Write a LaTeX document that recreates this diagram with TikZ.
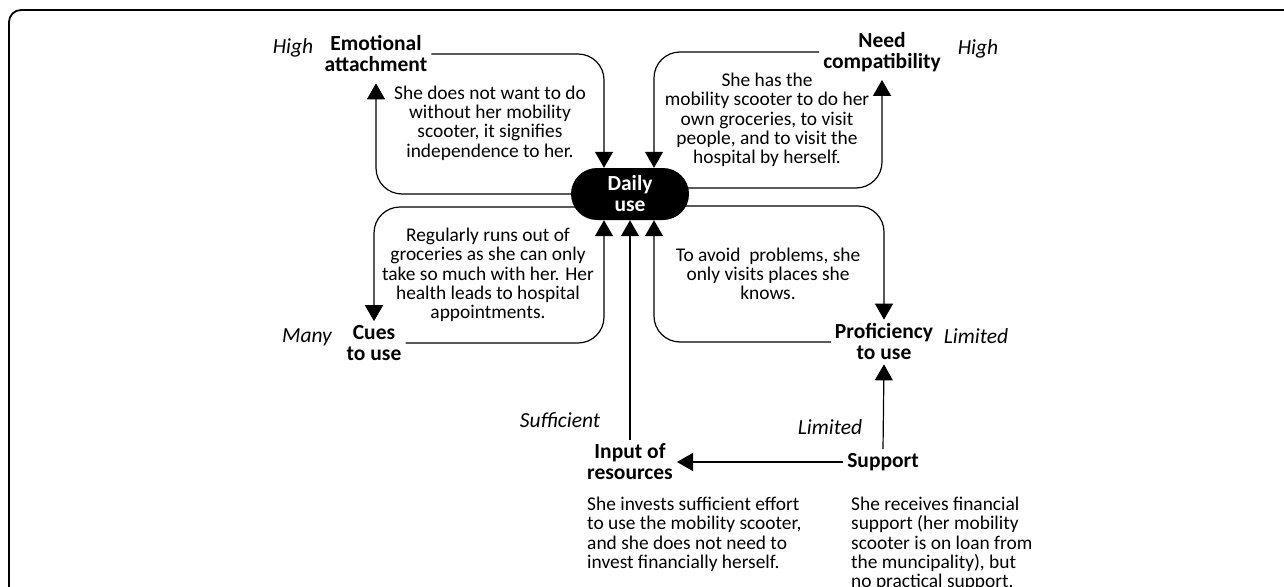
\documentclass[tikz,border=0pt]{standalone}
\usepackage{fontspec}
\setmainfont{Carlito}
\usetikzlibrary{arrows.meta,positioning,backgrounds}

\begin{document}
\begin{tikzpicture}[x=1pt,y=-1pt,
  factor/.style={font=\bfseries\fontsize{21.5}{21}\selectfont, align=center, inner sep=4pt},
  level/.style={font=\itshape\fontsize{21.5}{21}\selectfont},
  desc/.style={font=\fontsize{19.4}{19.3}\selectfont, align=center, inner sep=0pt},
  flow/.style={line width=1.2pt, rounded corners=26pt, -{Triangle[width=18pt,length=16pt]}}]
\useasboundingbox (0,0) rectangle (1284,586);
\clip (0,0) rectangle (1284,586);
\draw[line width=1.8pt, rounded corners=12pt] (9,620) -- (9,10) -- (1320,10);

% the centre
\node[factor, minimum width=118pt, minimum height=52pt, rounded corners=26pt,
  fill=black, text=white] (daily) at (630,194) {Daily\\use};

% factors and their levels
\node[factor] (emo) at (376,54) {Emotional\\attachment};
\node[factor] (need) at (882,52) {Need\\compatibility};
\node[factor] (cues) at (374,343) {Cues\\to use};
\node[factor] (prof) at (884,342) {Proficiency\\to use};
\node[factor] (input) at (630,462) {Input of\\resources};
\node[factor] (support) at (883,462) {Support};
\node[level] (emolvl) at (293,48) {High};
\node[level] (needlvl) at (978,49) {High};
\node[level] (cueslvl) at (307,337) {Many};
\node[level] (proflvl) at (976,336) {Limited};
\node[level] (inputlvl) at (560,420) {Sufficient};
\node[level] (supportlvl) at (830,427) {Limited};

% what she says
\node[desc] (emotxt) at (490,123) {She does not want to do\\without her mobility\\scooter, it signifies\\independence to her.};
\node[desc] (needtxt) at (767,120) {She has the\\mobility scooter to do her\\own groceries, to visit\\people, and to visit the\\hospital by herself.};
\node[desc] (cuestxt) at (488,275) {Regularly runs out of\\groceries as she can only\\take so much with her. Her\\health leads to hospital\\appointments.};
\node[desc] (proftxt) at (768,274) {To avoid\ \ problems, she\\only visits places she\\knows.};
\node[desc, align=left, anchor=north west] (inputtxt) at (587,497) {She invests sufficient effort\\to use the mobility scooter,\\and she does not need to\\invest financially herself.};
\node[desc, align=left, anchor=north west] (supporttxt) at (851,497) {She receives financial\\support (her mobility\\scooter is on loan from\\the muncipality), but\\no practical support.};

\begin{scope}[on background layer]
\draw[flow] (emo.east) -| ([xshift=-26pt]daily.north);
\draw[flow] (daily.center) -| ([yshift=-7pt]emo.south);
\draw[flow] (need.west) -| ([xshift=24pt]daily.north);
\draw[flow] ([yshift=6pt]daily.center) -| ([yshift=-4pt]need.south);
\draw[flow] ([yshift=-13pt]daily.center) -| (cues.north);
\draw[flow] (cues.east) -| ([xshift=-26pt]daily.south);
\draw[flow] ([yshift=-12pt]daily.center) -| (prof.north);
\draw[flow] (prof.west) -| ([xshift=24pt]daily.south);
\draw[flow] (input.north) -- (daily.south);
\draw[flow] (support.west) -- (input.east);
\draw[flow] (support.north) -- (prof.south);
\end{scope}
\end{tikzpicture}
\end{document}
